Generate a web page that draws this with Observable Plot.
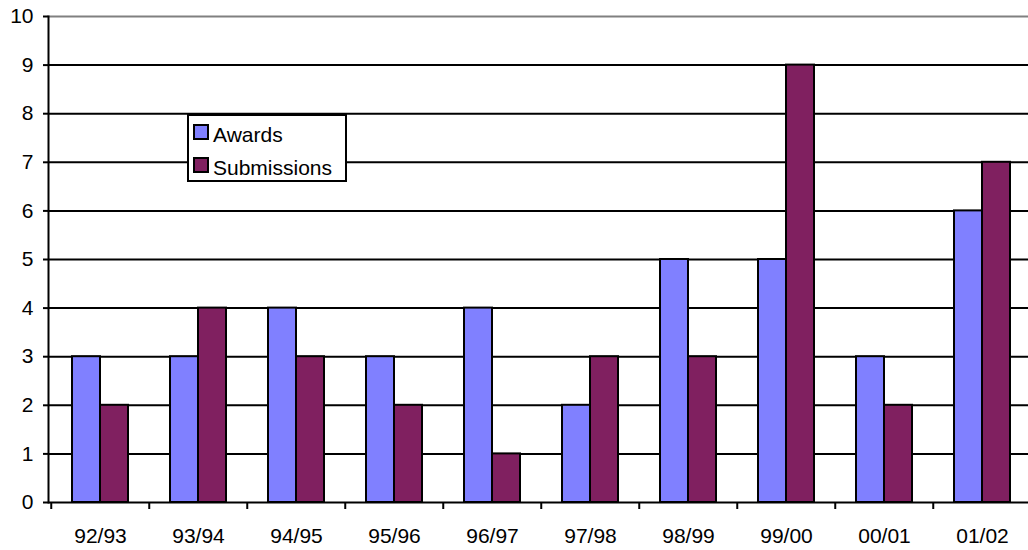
<!DOCTYPE html>
<html>
<head>
<meta charset="utf-8">
<script src="https://cdn.jsdelivr.net/npm/d3@7"></script>
<script src="https://cdn.jsdelivr.net/npm/@observablehq/plot@0.6"></script>
<style>
  html, body { margin: 0; padding: 0; background: #fff; overflow: hidden; }
  #wrap { position: relative; width: 1028px; height: 550px; overflow: hidden; font-family: "Liberation Sans", Arial, sans-serif; }
  #wrap svg { max-width: none !important; display: block; }
  #legend { position: absolute; left: 187px; top: 114px; width: 156px; height: 64px; border: 2px solid #000; background: #fff; }
  .sw { position: absolute; left: 4px; width: 12px; height: 12px; border: 2px solid #000; }
  .lbl { position: absolute; left: 24px; font-size: 21px; line-height: 21px; color: #000; white-space: nowrap; }
</style>
</head>
<body>
<div id="wrap"></div>
<script>
const categories = ["92/93","93/94","94/95","95/96","96/97","97/98","98/99","99/00","00/01","01/02"];
const awards =      [3, 3, 4, 3, 4, 2, 5, 5, 3, 6];
const submissions = [2, 4, 3, 2, 1, 3, 3, 9, 2, 7];
const seriesNames = ["Awards", "Submissions"];
const seriesColors = ["#8080FF", "#802060"];
const yTicks = [0,1,2,3,4,5,6,7,8,9,10];

const rowsA = categories.map((c, i) => ({cat: c, value: awards[i]}));
const rowsS = categories.map((c, i) => ({cat: c, value: submissions[i]}));

const step = 98.5;
const half = 28;

const chart = Plot.plot({
  width: 1040,
  height: 550,
  marginLeft: 48,
  marginRight: 7,
  marginTop: 16,
  marginBottom: 48,
  style: {fontFamily: "'Liberation Sans', Arial, sans-serif", fontSize: "21px", color: "#000", background: "#fff", maxWidth: "none"},
  x: {type: "band", domain: categories, paddingInner: 0.4315, paddingOuter: 0.21575, label: null},
  y: {domain: [0, 10], label: null},
  marks: [
    Plot.ruleY(yTicks.filter(d => d > 0 && d < 10), {stroke: "#000", strokeWidth: 2}),
    Plot.ruleY([10], {stroke: "#808080", strokeWidth: 2}),
    Plot.barY(rowsA, {x: "cat", y: "value", fill: seriesColors[0], stroke: "#000", strokeWidth: 2, insetRight: half}),
    Plot.barY(rowsS, {x: "cat", y: "value", fill: seriesColors[1], stroke: "#000", strokeWidth: 2, insetLeft: half}),
    Plot.ruleY([0], {stroke: "#000", strokeWidth: 2}),
    Plot.frame({anchor: "left", stroke: "#000", strokeWidth: 2}),
    Plot.axisY({ticks: yTicks, tickSize: 5, tickPadding: 10, fontSize: 21, stroke: "#000", strokeWidth: 2, tickFormat: d => String(d)}),
    Plot.axisX({tickSize: 7, tickFormat: () => "", dx: -step / 2, stroke: "#000", strokeWidth: 2}),
    Plot.axisX({tickSize: 0, tickPadding: 26, fontSize: 21})
  ]
});
document.getElementById("wrap").appendChild(chart);

const legend = document.createElement("div");
legend.id = "legend";
const swTops = [8, 41];
const lblTops = [8, 41];
seriesNames.forEach((name, i) => {
  const sw = document.createElement("div");
  sw.className = "sw";
  sw.style.top = swTops[i] + "px";
  sw.style.background = seriesColors[i];
  legend.appendChild(sw);
  const lbl = document.createElement("div");
  lbl.className = "lbl";
  lbl.style.top = lblTops[i] + "px";
  lbl.textContent = name;
  legend.appendChild(lbl);
});
document.getElementById("wrap").appendChild(legend);
</script>
</body>
</html>
